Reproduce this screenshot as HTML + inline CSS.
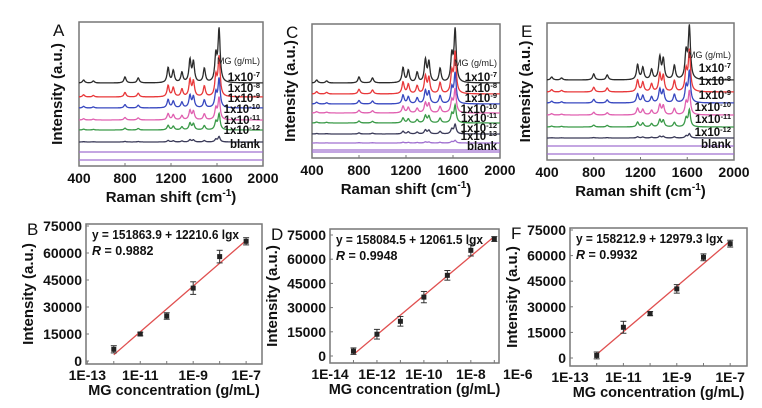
<!DOCTYPE html>
<html><head><meta charset="utf-8"><style>
body{margin:0;background:#fff;}
svg{display:block;font-family:"Liberation Sans",Arial,sans-serif;}
.t{font-weight:bold;fill:#111;}
</style></head><body>
<svg id="fig" width="762" height="408" viewBox="0 0 762 408" xmlns="http://www.w3.org/2000/svg"></svg>
<script>
// ---- Raman spectra data ----
const peakPositions = [440, 525, 800, 915, 1175, 1220, 1295, 1365, 1395, 1490, 1590, 1618];
const peakHeights   = [3, 2, 6, 5, 15, 12, 10, 22, 20, 14, 26, 52];
const concLabelsA = ["1x10-7","1x10-8","1x10-9","1x10-10","1x10-11","1x10-12","blank"];
const scalesA = [1, 0.75, 0.55, 0.42, 0.3, 0.1, 0];
const concLabelsC = ["1x10-7","1x10-8","1x10-9","1x10-10","1x10-11","1x10-12","1x10-13","blank"];
const scalesC = [1, 0.78, 0.58, 0.45, 0.33, 0.18, 0.05, 0];
const concLabelsE = ["1x10-7","1x10-8","1x10-9","1x10-10","1x10-11","1x10-12","blank"];
const scalesE = [1, 0.78, 0.6, 0.45, 0.32, 0.08, 0];
const ramanTicks = [400, 800, 1200, 1600, 2000];
// ---- Calibration data ----
const lgB = [-12, -11, -10, -9, -8, -7];
const valB = [6500, 15000, 25000, 40500, 58000, 66500];
const errB = [2000, 1000, 1800, 3500, 3500, 2000];
const lgD = [-13, -12, -11, -10, -9, -8, -7];
const valD = [3000, 13500, 21500, 36500, 50000, 65500, 72500];
const errD = [2000, 3000, 3000, 3500, 3000, 3500, 1500];
const lgF = [-12, -11, -10, -9, -8, -7];
const valF = [1500, 18000, 26000, 40500, 59000, 67000];
const errF = [2000, 3500, 1200, 2500, 2000, 2000];
const yTicks = [0, 15000, 30000, 45000, 60000, 75000];

const NS = "http://www.w3.org/2000/svg";
const svg = document.getElementById("fig");
function el(tag, attrs, parent, txt){
  const e = document.createElementNS(NS, tag);
  for (const k in attrs) e.setAttribute(k, attrs[k]);
  if (txt !== undefined) e.textContent = txt;
  (parent || svg).appendChild(e);
  return e;
}
const colors = ["#2b2b2b","#e8383a","#3848c0","#e060b0","#3a9a48","#3a3a58","#a070d0","#a070d0"];

function spectraPanel(name, letter, box, baselines, scales, labels, labelYs, mgY){
  const g = el("g", {});
  
  
  const xs = v => box.x0 + (v - 400) / 1600 * (box.x1 - box.x0);
  const r = el("rect", {x:box.x0, y:box.y0, width:box.x1-box.x0, height:box.y1-box.y0, fill:"none", stroke:"#777", "stroke-width":1.5}, g);
  
  
  el("line", {x1:box.x0, x2:box.x1, y1:box.y1-6, y2:box.y1-6, stroke:"#a070d0", "stroke-width":1.2}, g);
  scales.forEach((s, i) => {
    let d = "";
    for (let w = 400; w <= 2000; w += 3) {
      let y = 0;
      peakPositions.forEach((p, k) => { const gm = 11; y += peakHeights[k] * gm*gm / ((w-p)*(w-p) + gm*gm); });
      const py = baselines[i] - y * s;
      d += (w === 400 ? "M" : "L") + xs(w).toFixed(1) + " " + py.toFixed(1);
    }
    const p = el("path", {d, fill:"none", stroke:colors[i], "stroke-width":1.3}, g);
    
    
  });
  const mg = el("text", {x:box.x1-3, y:mgY, "font-size":9, "text-anchor":"end", fill:"#222"}, g, "MG (g/mL)");
  
  
  labels.forEach((lab, i) => {
    const t = el("text", {x:box.x1-3, y:labelYs[i], "font-size":11.5, "text-anchor":"end", class:"t"}, g);
    
    
    if (lab === "blank") { t.textContent = "blank"; }
    else {
      const parts = lab.split("-");
      el("tspan", {}, t, parts[0]);
      el("tspan", {"font-size":7.5, dy:-4}, t, "-" + parts[1]);
    }
  });
  ramanTicks.forEach(v => {
    el("line", {x1:xs(v), x2:xs(v), y1:box.y1, y2:box.y1-3, stroke:"#777"}, g);
    const t = el("text", {x:xs(v), y:box.y1+17, "font-size":14, "text-anchor":"middle", class:"t"}, g, String(v));
    
    
  });
  const xt = el("text", {x:(box.x0+box.x1)/2, y:box.y1+36, "font-size":15, "text-anchor":"middle", class:"t"}, g);
  
  
  el("tspan", {}, xt, "Raman shift (cm");
  el("tspan", {"font-size":10, dy:-6}, xt, "-1");
  el("tspan", {dy:6}, xt, ")");
  const cy = (box.y0+box.y1)/2;
  const yt = el("text", {x:box.x0-17, y:cy, "font-size":15, "text-anchor":"middle", class:"t", transform:`rotate(-90 ${box.x0-17} ${cy})`}, g, "Intensity (a.u.)");
  
  
  const L = el("text", {x:box.x0-26, y:box.y0+14, "font-size":17, fill:"#111"}, g, letter);
  
  
}

spectraPanel("panel-a", "A", {x0:79,x1:263,y0:22,y1:166}, [83,97,108,120,130,142,152], scalesA, concLabelsA, [81,92,102,113,124,134,148], 64);
spectraPanel("panel-c", "C", {x0:312,x1:500,y0:24,y1:158}, [83,94,104,113,123,134,143,150], scalesC, concLabelsC, [81,92,102,113,122,132,140,150], 66);
spectraPanel("panel-e", "E", {x0:547,x1:734,y0:23,y1:160}, [80,92,103,115,127,138,146], scalesE, concLabelsE, [72,85,99,111,123,136,148], 58);

function calibPanel(name, letter, box, lgMin, lgMax, xTickLg, lg, vals, errs, eq, rtxt){
  const g = el("g", {});
  
  
  const xs = v => box.x0 + (v - lgMin) / (lgMax - lgMin) * (box.x1 - box.x0);
  const ys = v => box.yz - v / 75000 * (box.yz - box.yt);
  const r = el("rect", {x:box.x0, y:box.y0, width:box.x1-box.x0, height:box.y1-box.y0, fill:"none", stroke:"#777", "stroke-width":1.5}, g);
  
  
  yTicks.forEach(v => {
    el("line", {x1:box.x0, x2:box.x0+3, y1:ys(v), y2:ys(v), stroke:"#777"}, g);
    const t = el("text", {x:box.x0-4, y:ys(v)+5, "font-size":14, "text-anchor":"end", class:"t"}, g, String(v));
    
    
  });
  xTickLg.forEach(v => {
    const t = el("text", {x:xs(v), y:box.y1+16, "font-size":14, "text-anchor":"middle", class:"t"}, g, "1E" + v);
    
    
  });
  for (let v = Math.ceil(lgMin); v <= lgMax; v++) el("line", {x1:xs(v), x2:xs(v), y1:box.y1, y2:box.y1-3, stroke:"#777"}, g);
  const n = lg.length, mx = lg.reduce((a,b)=>a+b)/n, my = vals.reduce((a,b)=>a+b)/n;
  let sxy = 0, sxx = 0; lg.forEach((x,i)=>{sxy += (x-mx)*(vals[i]-my); sxx += (x-mx)*(x-mx);});
  const k = sxy/sxx, b = my - k*mx;
  const fl = el("line", {x1:xs(lg[0]), y1:ys(b+k*lg[0]), x2:xs(lg[n-1]), y2:ys(b+k*lg[n-1]), stroke:"#e05050", "stroke-width":1.3}, g);
  
  
  lg.forEach((x, i) => {
    const cx = xs(x), cy = ys(vals[i]), e = ys(vals[i]+errs[i]) , e2 = ys(vals[i]-errs[i]);
    el("line", {x1:cx, x2:cx, y1:e, y2:e2, stroke:"#333", "stroke-width":1}, g);
    el("line", {x1:cx-3, x2:cx+3, y1:e, y2:e, stroke:"#333"}, g);
    el("line", {x1:cx-3, x2:cx+3, y1:e2, y2:e2, stroke:"#333"}, g);
    const p = el("rect", {x:cx-2.5, y:cy-2.5, width:5, height:5, fill:"#222"}, g);
    
    
  });
  const t1 = el("text", {x:box.x0+6, y:box.y0+15, "font-size":12.5, class:"t", textLength:147, lengthAdjust:"spacingAndGlyphs"}, g, eq);
  
  
  const t2 = el("text", {x:box.x0+6, y:box.y0+31, "font-size":12.5, class:"t"}, g);
  
  
  el("tspan", {"font-style":"italic"}, t2, "R");
  el("tspan", {}, t2, " = " + rtxt);
  const xt = el("text", {x:(box.x0+box.x1)/2, y:box.y1+31, "font-size":14.5, "text-anchor":"middle", class:"t"}, g, "MG concentration (g/mL)");
  
  
  const cy = (box.y0+box.y1)/2, tx = box.x0-53;
  const yt = el("text", {x:tx, y:cy, "font-size":15, "text-anchor":"middle", class:"t", transform:`rotate(-90 ${tx} ${cy})`}, g, "Intensity (a.u.)");
  
  
  const L = el("text", {x:box.x0-59, y:box.y0+11, "font-size":17, fill:"#111"}, g, letter);
  
  
}

calibPanel("panel-b", "B", {x0:86,x1:262,y0:224,y1:364,yz:361,yt:226}, -13.05, -6.4, [-13,-11,-9,-7], lgB, valB, errB, "y = 151863.9  + 12210.6  lgx", "0.9882");
calibPanel("panel-d", "D", {x0:330,x1:499,y0:229,y1:363,yz:356,yt:235}, -14, -6.8, [-14,-12,-10,-8,-6], lgD, valD, errD, "y = 158084.5  + 12061.5  lgx", "0.9948");
calibPanel("panel-f", "F", {x0:570,x1:747,y0:228,y1:366,yz:358,yt:230}, -13, -6.37, [-13,-11,-9,-7], lgF, valF, errF, "y = 158212.9  + 12979.3  lgx", "0.9932");
</script>
</body></html>
